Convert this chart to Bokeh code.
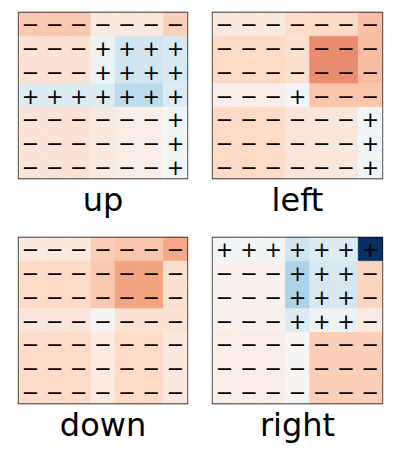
import numpy as np
from bokeh.plotting import figure
from bokeh.layouts import gridplot
from bokeh.models import ColumnDataSource, LinearColorMapper, Range1d
from bokeh.transform import transform
from bokeh.core.properties import value
from bokeh.embed import file_html
from bokeh.resources import INLINE

titles = ["up", "left", "down", "right"]

up_vals = [
    [-0.27, -0.27, -0.27, -0.10, -0.10, -0.10, -0.24],
    [-0.15, -0.15, -0.15, 0.05, 0.20, 0.20, 0.16],
    [-0.15, -0.15, -0.15, 0.05, 0.20, 0.20, 0.16],
    [0.14, 0.14, 0.14, 0.14, 0.26, 0.26, 0.14],
    [-0.14, -0.14, -0.14, -0.10, -0.07, -0.07, 0.03],
    [-0.14, -0.14, -0.14, -0.10, -0.07, -0.07, 0.03],
    [-0.14, -0.14, -0.14, -0.10, -0.07, -0.07, 0.03],
]
left_vals = [
    [-0.10, -0.10, -0.10, -0.19, -0.20, -0.20, -0.30],
    [-0.20, -0.20, -0.20, -0.16, -0.47, -0.47, -0.31],
    [-0.20, -0.20, -0.20, -0.16, -0.47, -0.47, -0.31],
    [-0.07, -0.07, -0.07, 0.03, -0.28, -0.28, -0.28],
    [-0.20, -0.20, -0.20, -0.13, -0.12, -0.12, 0.03],
    [-0.20, -0.20, -0.20, -0.13, -0.12, -0.12, 0.03],
    [-0.20, -0.20, -0.20, -0.13, -0.12, -0.12, 0.03],
]
down_vals = [
    [-0.10, -0.10, -0.10, -0.25, -0.28, -0.28, -0.39],
    [-0.20, -0.20, -0.20, -0.27, -0.40, -0.40, -0.16],
    [-0.20, -0.20, -0.20, -0.27, -0.40, -0.40, -0.16],
    [-0.11, -0.11, -0.11, -0.01, -0.15, -0.15, -0.14],
    [-0.19, -0.19, -0.19, -0.09, -0.20, -0.20, -0.10],
    [-0.19, -0.19, -0.19, -0.09, -0.20, -0.20, -0.10],
    [-0.19, -0.19, -0.19, -0.09, -0.20, -0.20, -0.10],
]
right_vals = [
    [0.03, 0.03, 0.03, 0.21, 0.14, 0.14, 1.00],
    [-0.04, -0.04, -0.04, 0.31, 0.17, 0.17, -0.22],
    [-0.04, -0.04, -0.04, 0.31, 0.17, 0.17, -0.22],
    [-0.05, -0.05, -0.05, 0.13, 0.05, 0.05, -0.09],
    [-0.07, -0.07, -0.07, -0.01, -0.25, -0.25, -0.25],
    [-0.07, -0.07, -0.07, -0.01, -0.25, -0.25, -0.25],
    [-0.07, -0.07, -0.07, -0.01, -0.25, -0.25, -0.25],
]
all_vals = [up_vals, left_vals, down_vals, right_vals]

# RdBu (red = negative, blue = positive), interpolated to 256 colours
anchors = ["#67001f", "#b2182b", "#d6604d", "#f4a582", "#fddbc7", "#f7f7f7",
           "#d1e5f0", "#92c5de", "#4393c3", "#2166ac", "#053061"]
rgb = np.array([[int(c[i:i + 2], 16) for i in (1, 3, 5)] for c in anchors], float)
pos = np.linspace(0, 1, len(anchors))
t = np.linspace(0, 1, 256)
palette = ["#%02x%02x%02x" % tuple(int(round(np.interp(tt, pos, rgb[:, k]))) for k in range(3)) for tt in t]
mapper = LinearColorMapper(palette=palette, low=-1, high=1)

FONT = "DejaVu Sans"
sizes = [
    dict(width=199, height=233, min_border_left=18, min_border_right=12, min_border_top=12, min_border_bottom=55),
    dict(width=188, height=233, min_border_left=13, min_border_right=5, min_border_top=12, min_border_bottom=55),
    dict(width=199, height=215, min_border_left=18, min_border_right=12, min_border_top=4, min_border_bottom=45),
    dict(width=188, height=215, min_border_left=13, min_border_right=5, min_border_top=4, min_border_bottom=45),
]

figs = []
for title, vals, sz in zip(titles, all_vals, sizes):
    xs, ys, vs, signs = [], [], [], []
    for r, row in enumerate(vals):
        for c, v in enumerate(row):
            xs.append(c + 0.5)
            ys.append(r + 0.5)
            vs.append(v)
            signs.append("+" if v > 0 else "\u2212")
    src = ColumnDataSource(dict(x=xs, y=ys, v=vs, s=signs))
    p = figure(output_backend="svg", toolbar_location=None,
               x_range=Range1d(0, 7), y_range=Range1d(7, 0),
               x_axis_location=None, y_axis_location=None,
               title=title, title_location="below", **sz)
    p.grid.visible = False
    p.outline_line_color = "black"
    p.outline_line_width = 1.3
    p.background_fill_color = "white"
    p.border_fill_color = "white"
    p.rect("x", "y", width=1, height=1, source=src,
           fill_color=transform("v", mapper), line_color=transform("v", mapper), line_width=0.6)
    p.text("x", "y", text="s", source=src, text_align="center", text_baseline="middle",
           text_font=value(FONT), text_font_size="21px", text_color="black")
    p.title.align = "center"
    p.title.text_font = FONT
    p.title.text_font_size = "32px"
    p.title.text_font_style = "normal"
    p.title.text_color = "black"
    p.title.standoff = 0
    figs.append(p)

grid = gridplot([[figs[0], figs[1]], [figs[2], figs[3]]], toolbar_location=None)

open("out.html", "w").write(file_html(grid, INLINE))
